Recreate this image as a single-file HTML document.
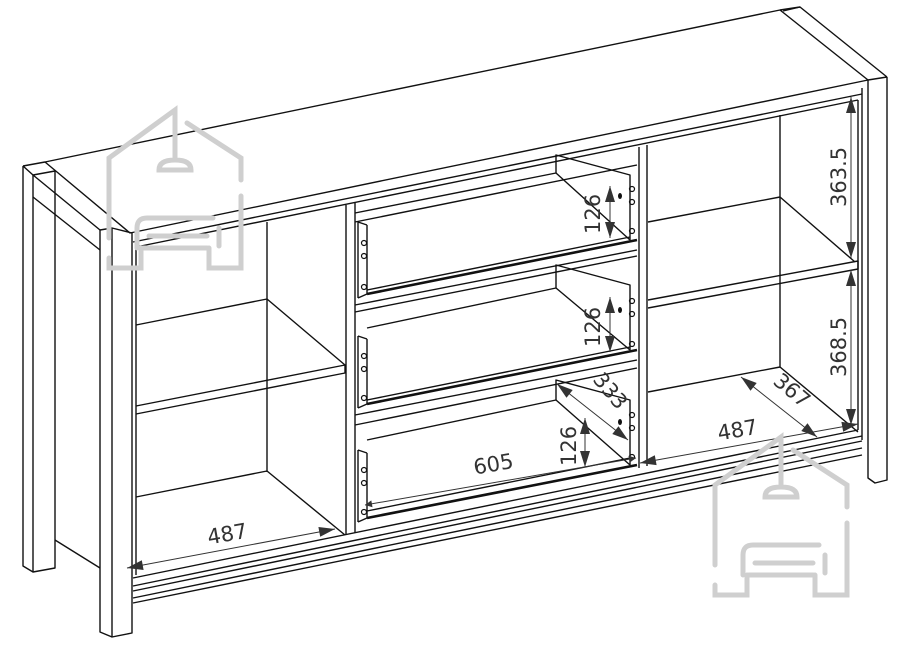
<!DOCTYPE html>
<html><head><meta charset="utf-8"><style>
html,body{margin:0;padding:0;background:#fff;}
svg{display:block;}
text{font-family:"DejaVu Sans","Liberation Sans",sans-serif;fill:#333;}
</style></head><body>
<svg width="907" height="645" viewBox="0 0 907 645" xmlns="http://www.w3.org/2000/svg">
<defs>
<marker id="a" viewBox="0 0 10 10" refX="10" refY="5" markerWidth="12" markerHeight="7" orient="auto-start-reverse" markerUnits="userSpaceOnUse"><path d="M0,0 L10,5 L0,10 z" fill="#333"/></marker>
<g id="wm" fill="none" stroke="#cfcfcf" stroke-width="5" stroke-linecap="round">
<path d="M2,120 V40 L68,-8 L68,18 M80,5 L134,40 V62 M134,78 V150 H102 V130 M2,140 V150 H34 V130"/>
<path d="M68,18 V42 M52,52 Q52,42 68,42 Q84,42 84,52 Z"/>
<path d="M30,130 V110 Q30,100 40,100 H106 M112,110 V128 M36,130 H100 M42,118 H100"/>
</g>
</defs>
<g fill="none" stroke="#111" stroke-width="1.4" stroke-linejoin="round">
<path d="M23,166 L45,162 L780,10 L800,7 L887,77"/>
<path d="M45,162 L130,233 L868,80 L887,77"/>
<path d="M800,7 L783,11"/><path d="M780,10 L868,80"/>
<path d="M23,166 L33,175 L55,171"/>
<path d="M23,166 V566 L33,572 L55,568 V171"/><path d="M33,175 V572"/>
<path d="M55,540 L100,568"/>
<path d="M33,175 L100,230"/><path d="M33,197 L100,250"/>
<path d="M100,230 L112,228 L132,233"/>
<path d="M100,230 V632 L112,637 L132,633 V233"/><path d="M112,228 V637"/>
<path d="M868,80 V478 L875,483 L887,480 V77"/><path d="M862,88 V440"/>
<path d="M133,242 L862,94"/><path d="M136,247 L858,100"/>
<path d="M136,247 V575"/><path d="M858,100 V430"/>
<path d="M133,586 L862,436"/><path d="M133,591 L862,441"/><path d="M133,598 L862,448"/><path d="M133,603 L862,455"/><path d="M133,578 L858,430"/>
<path d="M136,325 L267,299 L345,365"/><path d="M267,222 V472"/>
<path d="M136,406 L345,365 V373 L136,414"/>
<path d="M136,497 L267,471 L345,535"/>
<path d="M346,205 V535"/><path d="M355,203 V533"/>
<path d="M639,147 V468"/><path d="M647,145 V466"/>
<path d="M355,222 L637,165"/><path d="M358,222 V298 M367,225 V294 M358,222 L367,225 M358,298 L367,294"/>
<path d="M367,294 L637,240" stroke-width="2.6"/><path d="M367,290 L630,237"/>
<path d="M355,213 L556,173 L556,155 L630,175 V240"/><path d="M556,173 L630,240"/>
<path d="M355,305 L637,250"/><path d="M355,312 L637,256"/>
<path d="M358,336 V408 M367,339 V404 M358,336 L367,339 M358,408 L367,404"/>
<path d="M367,404 L637,350" stroke-width="2.6"/><path d="M367,400 L630,347"/>
<path d="M367,328 L556,288 L556,265 L630,285 V350"/><path d="M556,288 L630,350"/>
<path d="M355,415 L637,360"/><path d="M355,425 L637,368"/>
<path d="M358,450 V522 M367,453 V518 M358,450 L367,453 M358,522 L367,518"/>
<path d="M367,518 L637,465" stroke-width="2.6"/><path d="M367,511 L630,458"/>
<path d="M367,440 L556,400 L556,380 L630,400 V465"/><path d="M556,400 L630,465"/>
<path d="M648,222 L780,197 L855,262"/><path d="M780,115 V367"/>
<path d="M648,300 L858,261 V269 L648,308"/>
<path d="M648,392 L780,367 L858,432"/>
</g>
<g fill="none" stroke="#111" stroke-width="1.2">
<circle cx="364" cy="243" r="2.5"/><circle cx="364" cy="256" r="2.5"/><circle cx="364" cy="287" r="2.5"/>
<circle cx="364" cy="356" r="2.5"/><circle cx="364" cy="369" r="2.5"/><circle cx="364" cy="398" r="2.5"/>
<circle cx="364" cy="470" r="2.5"/><circle cx="364" cy="483" r="2.5"/><circle cx="364" cy="512" r="2.5"/>
<circle cx="632" cy="189" r="2.5"/><circle cx="632" cy="202" r="2.5"/><circle cx="632" cy="231" r="2.5"/>
<circle cx="632" cy="301" r="2.5"/><circle cx="632" cy="314" r="2.5"/><circle cx="632" cy="344" r="2.5"/>
<circle cx="632" cy="415" r="2.5"/><circle cx="632" cy="428" r="2.5"/><circle cx="632" cy="457" r="2.5"/>
</g>
<g fill="#111"><ellipse cx="620" cy="196" rx="2" ry="3"/><ellipse cx="620" cy="310" rx="2" ry="3"/><ellipse cx="620" cy="422" rx="2" ry="3"/></g>
<g stroke="#333" stroke-width="1" fill="none">
<line x1="127" y1="568" x2="335" y2="529"/>
<line x1="365" y1="505" x2="636" y2="458" marker-start="url(#a)" marker-end="url(#a)"/>
<line x1="640" y1="463" x2="858" y2="424"/>
<line x1="741" y1="377" x2="817" y2="437"/>
<line x1="557" y1="384" x2="628" y2="440"/>
<line x1="610" y1="186" x2="610" y2="238"/>
<line x1="610" y1="297" x2="610" y2="352"/>
<line x1="585" y1="418" x2="585" y2="467"/>
<line x1="851" y1="97" x2="851" y2="258"/>
<line x1="851" y1="270" x2="851" y2="425"/>
</g>
<g fill="#333">
<polygon points="127,568 143.6,570 141.8,560.2"/><polygon points="335,529 320.2,536.8 318.4,527"/>
<polygon points="640,463 656.6,465.1 654.8,455.3"/><polygon points="858,424 843.2,431.7 841.4,421.9"/>
<polygon points="741,377 750.5,390.8 756.7,383"/><polygon points="817,437 801.3,431 807.5,423.2"/>
<polygon points="557,384 566.5,397.8 572.7,390"/><polygon points="628,440 612.3,434 618.5,426.2"/>
<polygon points="610,186 605,202 615,202"/><polygon points="610,238 605,222 615,222"/>
<polygon points="610,297 605,313 615,313"/><polygon points="610,352 605,336 615,336"/>
<polygon points="585,418 580,434 590,434"/><polygon points="585,467 580,451 590,451"/>
<polygon points="851,97 846,113 856,113"/><polygon points="851,258 846,242 856,242"/>
<polygon points="851,270 846,286 856,286"/><polygon points="851,425 846,409 856,409"/>
</g>
<g font-size="21">
<text x="207" y="541" transform="rotate(-10 228 533)">487</text>
<text x="473" y="471" transform="rotate(-10 495 462)">605</text>
<text x="717" y="437" transform="rotate(-10 738 428)">487</text>
<text transform="translate(772,383) rotate(40)">367</text>
<text transform="translate(592,380) rotate(50)">333</text>
<text transform="translate(600,234) rotate(-90)">126</text>
<text transform="translate(600,347) rotate(-90)">126</text>
<text transform="translate(576,466) rotate(-90)">126</text>
<text transform="translate(846,207) rotate(-90)">363.5</text>
<text transform="translate(846,377) rotate(-90)">368.5</text>
</g>
<use href="#wm" x="107" y="118"/>
<use href="#wm" x="713" y="445"/>
</svg>
</body></html>
